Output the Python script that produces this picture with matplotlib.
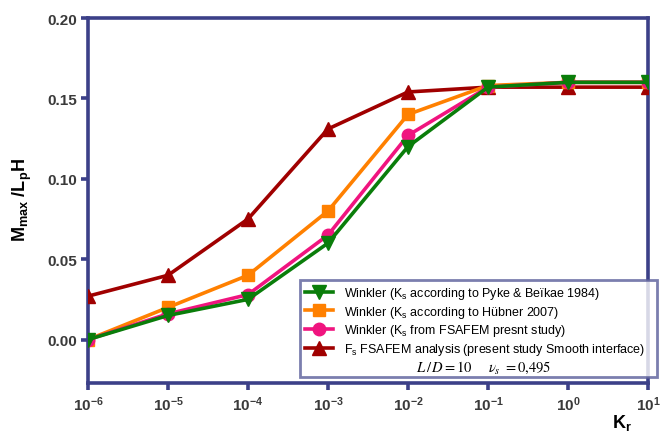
import matplotlib
matplotlib.use("Agg")
import matplotlib.pyplot as plt
from matplotlib.lines import Line2D

plt.rcParams['font.family'] = ['Liberation Sans', 'DejaVu Sans']
plt.rcParams['mathtext.fontset'] = 'custom'
plt.rcParams['mathtext.rm'] = 'Liberation Sans'
plt.rcParams['mathtext.bf'] = 'Liberation Sans:bold'
plt.rcParams['mathtext.it'] = 'Liberation Sans:italic'

# Relative stiffness K_r
kr = [1e-6, 1e-5, 1e-4, 1e-3, 1e-2, 1e-1, 1e0, 1e1]
x_tick_exps = [-6, -5, -4, -3, -2, -1, 0, 1]
y_ticks = [0.00, 0.05, 0.10, 0.15, 0.20]

# Normalised maximum bending moment M_max / (L_p H)
pyke_beikae = [0.000, 0.015, 0.025, 0.060, 0.120, 0.157, 0.160, 0.160]
hubner = [0.000, 0.020, 0.040, 0.080, 0.140, 0.158, 0.160, 0.160]
fsafem_winkler = [0.000, 0.016, 0.028, 0.065, 0.127, 0.157, 0.160, 0.160]
fsafem_smooth = [0.027, 0.040, 0.075, 0.131, 0.154, 0.157, 0.157, 0.157]

labels = [
    r"Winkler (K$_\mathrm{s}$ according to Pyke & Beïkae 1984)",
    r"Winkler (K$_\mathrm{s}$ according to Hübner 2007)",
    r"Winkler (K$_\mathrm{s}$ from FSAFEM presnt study)",
    r"F$_\mathrm{s}$ FSAFEM analysis (present study Smooth interface)",
]

navy = "#3c4088"
fig = plt.figure(figsize=(6.6, 4.35), dpi=100)
ax = fig.add_axes([88 / 660, 1 - 384 / 435, (648 - 88) / 660, (384 - 19) / 435])

lw = 2.6
ax.plot(kr, fsafem_smooth, color="#a00000", marker="^", ms=10, lw=lw, zorder=3)
ax.plot(kr, hubner, color="#ff8000", marker="s", ms=9, lw=lw, zorder=4)
ax.plot(kr, fsafem_winkler, color="#f0147f", marker="o", ms=9, lw=lw, zorder=5)
ax.plot(kr, pyke_beikae, color="#0a7d0a", marker="v", ms=10, lw=lw, zorder=6)

ax.set_xscale("log")
ax.set_xlim(1e-6, 1e1)
ax.set_ylim(-0.027, 0.20)
ax.set_xticks(kr)
ax.set_xticklabels([r"$\mathbf{10^{%d}}$" % e for e in x_tick_exps])
ax.minorticks_off()
ax.set_yticks(y_ticks)
ax.set_yticklabels(["%.2f" % v for v in y_ticks])

for s in ax.spines.values():
    s.set_color(navy)
    s.set_linewidth(2.6)

ax.tick_params(axis="both", which="major", direction="out", length=5, width=2.6,
               color=navy, labelsize=11, labelcolor="#3a3a3a", pad=3)
for t in ax.get_yticklabels():
    t.set_fontweight("bold")
for t in ax.get_xticklabels():
    t.set_fontweight("bold")

fig.text(22 / 660, 1 - 200 / 435, r"$\mathbf{M_{max}}$ $\mathbf{/L_pH}$", rotation=90,
         ha="center", va="center", fontsize=13, color="black")
fig.text(622 / 660, 1 - 423 / 435, r"$\mathbf{K_r}$", ha="center", va="center",
         fontsize=13, color="black")

handles = [
    Line2D([], [], color="#0a7d0a", marker="v", ms=10, lw=lw),
    Line2D([], [], color="#ff8000", marker="s", ms=9, lw=lw),
    Line2D([], [], color="#f0147f", marker="o", ms=9, lw=lw),
    Line2D([], [], color="#a00000", marker="^", ms=10, lw=lw),
    Line2D([], [], color="none"),
]
leg = fig.legend(handles, labels + [" "], loc="lower left",
                 bbox_to_anchor=(300 / 660, 1 - 378 / 435, (657 - 300) / 660, (378 - 276) / 435),
                 mode="expand", fontsize=9, frameon=True, fancybox=False,
                 handlelength=2.2, handletextpad=0.9, labelspacing=0.22,
                 borderpad=0.4, borderaxespad=0)
leg.get_frame().set_edgecolor("#5a5e9a")
leg.get_frame().set_linewidth(2.0)
leg.set_zorder(10)

fig.text(416 / 660, 1 - 368 / 435, r"$L\,/\,D = 10$", fontsize=10.5,
         math_fontfamily="stix", ha="left", va="center", zorder=20)
fig.text(488 / 660, 1 - 368 / 435, r"$\nu_s\ = 0{,}495$", fontsize=10.5,
         math_fontfamily="stix", ha="left", va="center", zorder=20)

fig.savefig("out.png", dpi=100)
